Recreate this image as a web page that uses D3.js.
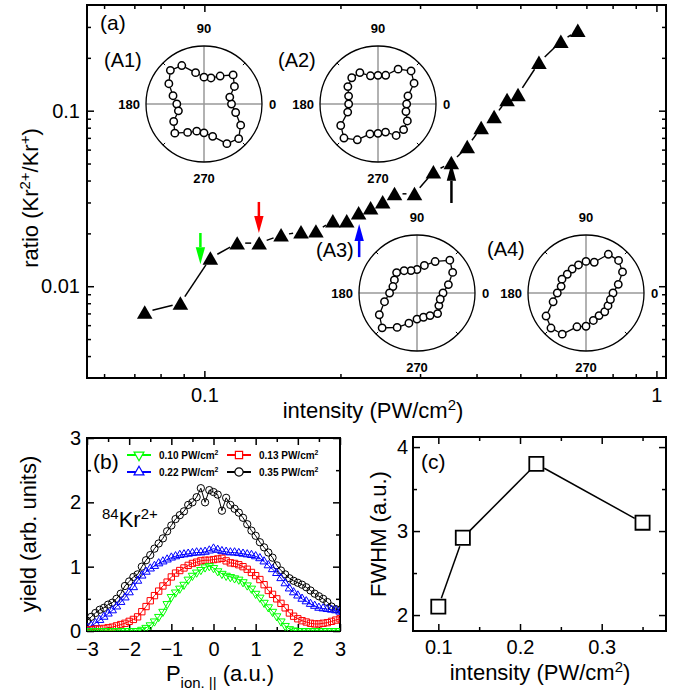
<!DOCTYPE html>
<html>
<head>
<meta charset="utf-8">
<script src="https://cdn.jsdelivr.net/npm/d3@7"></script>
<style>
body{margin:0;background:#fff}
svg{font-family:"Liberation Sans",Arial,sans-serif}
</style>
</head>
<body>
<svg id="fig" width="680" height="690"></svg>
<script>
// ---- panel (a): ratio vs intensity ----
const intensity = [0.0738,0.0885,0.1031,0.1182,0.1322,0.1478,0.1636,0.1765,0.1924,0.2065,0.2194,0.2332,0.2480,0.2634,0.2916,0.3211,0.3518,0.3815,0.4096,0.4375,0.4673,0.4941,0.5497,0.6146,0.670];
const ratio = [0.0071,0.0080,0.01445,0.0176,0.0176,0.01956,0.02035,0.0206,0.0235,0.0235,0.0261,0.0279,0.0302,0.0336,0.0336,0.0448,0.0505,0.0623,0.0800,0.0924,0.1156,0.1234,0.188,0.248,0.2865];

// arrows marking the intensities of panel (b)
const arrowI = [0.098,0.132,0.22,0.352];
const arrowTip = [0.01336,0.0201,0.0226,0.0498];
const arrowTail = [0.0201,0.0302,0.01465,0.0298];
const arrowColor = ["#00ff00","#ff0000","#0000ff","#000000"];

// polar insets: yield vs polarization angle
const polarAngle = [0,15,30,45,60,75,90,105,120,135,150,165,180,195,210,225,240,255,270,285,300,315,330,345];
const polarA1 = [0.474,0.46,0.606,0.71,0.557,0.465,0.463,0.56,0.766,0.82,0.70,0.553,0.469,0.457,0.603,0.711,0.565,0.485,0.497,0.577,0.789,0.845,0.73,0.565];
const polarA2 = [0.494,0.535,0.718,0.806,0.694,0.512,0.494,0.503,0.625,0.64,0.60,0.525,0.506,0.541,0.742,0.83,0.713,0.535,0.506,0.502,0.626,0.624,0.584,0.499];
const polarA3 = [0.449,0.56,0.71,0.80,0.626,0.492,0.405,0.40,0.444,0.497,0.45,0.43,0.473,0.58,0.75,0.85,0.685,0.539,0.45,0.433,0.45,0.502,0.435,0.415];
const polarA4 = [0.466,0.576,0.727,0.794,0.771,0.549,0.545,0.501,0.477,0.457,0.478,0.444,0.495,0.587,0.795,0.854,0.819,0.603,0.573,0.49,0.45,0.457,0.438,0.436];

// ---- panel (b): momentum distributions ----
const pIon = [-3.0,-2.9,-2.8,-2.7,-2.6,-2.5,-2.4,-2.3,-2.2,-2.1,-2.0,-1.9,-1.8,-1.7,-1.6,-1.5,-1.4,-1.3,-1.2,-1.1,-1.0,-0.9,-0.8,-0.7,-0.6,-0.5,-0.4,-0.3,-0.2,-0.1,0.0,0.1,0.2,0.3,0.4,0.5,0.6,0.7,0.8,0.9,1.0,1.1,1.2,1.3,1.4,1.5,1.6,1.7,1.8,1.9,2.0,2.1,2.2,2.3,2.4,2.5,2.6,2.7,2.8,2.9,3.0];
const yield010 = [0,0,0,0,0,0,0,0,0,0,0,0,0,
  0.02,0.05,0.09,0.15,0.22,0.30,0.42,0.53,0.60,0.66,0.72,0.80,0.86,0.91,0.95,0.99,1.01,
  0.98,0.93,0.89,0.86,0.84,0.82,0.80,0.76,0.71,0.66,0.58,0.52,0.44,0.37,0.30,0.23,0.15,0.08,0.03,0.01,
  0,0,0,0,0,0,0,0,0,0,0];
const yield013 = [0.02,0.02,0.03,0.03,0.04,0.05,0.06,0.08,0.10,0.12,
  0.15,0.18,0.22,0.30,0.38,0.47,0.55,0.62,0.70,0.76,
  0.84,0.90,0.94,0.98,1.02,1.05,1.07,1.09,1.10,1.10,
  1.11,1.12,1.13,1.09,1.06,1.05,1.03,1.00,0.96,0.91,
  0.86,0.80,0.72,0.63,0.57,0.50,0.43,0.36,0.28,0.23,
  0.19,0.16,0.14,0.12,0.11,0.11,0.12,0.13,0.15,0.17,0.19];
const yield022 = [0.05,0.08,0.12,0.17,0.22,0.27,0.32,0.38,0.45,0.52,
  0.60,0.68,0.78,0.86,0.92,0.97,1.01,1.05,1.08,1.11,
  1.14,1.16,1.18,1.19,1.20,1.21,1.22,1.22,1.23,1.25,
  1.28,1.26,1.24,1.23,1.22,1.22,1.21,1.20,1.19,1.18,
  1.16,1.13,1.08,1.02,0.96,0.90,0.82,0.74,0.66,0.60,
  0.55,0.50,0.46,0.42,0.39,0.36,0.35,0.34,0.33,0.32,0.30];
const yield035 = [0.16,0.22,0.28,0.33,0.36,0.41,0.44,0.50,0.58,0.70,
  0.77,0.84,0.88,1.00,1.10,1.18,1.28,1.36,1.44,1.55,
  1.64,1.74,1.80,1.86,1.96,2.00,2.08,2.22,2.00,2.19,
  2.16,2.12,1.87,2.07,1.96,1.90,1.84,1.76,1.66,1.56,
  1.48,1.38,1.30,1.22,1.14,1.02,0.94,0.88,0.82,0.78,
  0.75,0.72,0.68,0.63,0.58,0.54,0.50,0.45,0.38,0.34,0.33];
const seriesLabel = ["0.10","0.13","0.22","0.35"];

// ---- panel (c): FWHM vs intensity ----
const fwhmI = [0.10,0.13,0.22,0.35];
const fwhm = [2.1,2.92,3.8,3.1];

const svg = d3.select("#fig");
const FONT = "'Liberation Sans',Arial,sans-serif";

// frame with inward ticks on all four sides
function frameAxes(x, y, o) {
  const [xa, xb] = x.range(), [ya, yb] = y.range();
  const specs = [
    [d3.axisBottom, x, `translate(0,${ya})`, o.xMajor, o.xMinor, o.xFmt, o.xPad],
    [d3.axisTop, x, `translate(0,${yb})`, o.xMajor, o.xMinor, null, 0],
    [d3.axisLeft, y, `translate(${xa},0)`, o.yMajor, o.yMinor, o.yFmt, o.yPad],
    [d3.axisRight, y, `translate(${xb},0)`, o.yMajor, o.yMinor, null, 0]
  ];
  specs.forEach(([ax, sc, tr, maj, min, fmt, pad]) => {
    const g1 = svg.append("g").attr("transform", tr)
      .call(ax(sc).tickValues(maj).tickSize(-7).tickPadding(pad).tickFormat(fmt || (() => "")));
    const g2 = svg.append("g").attr("transform", tr)
      .call(ax(sc).tickValues(min).tickSize(-4).tickFormat(() => ""));
    [g1, g2].forEach(g => {
      g.select(".domain").remove();
      g.selectAll("line").attr("stroke-width", 1.5);
      g.attr("font-size", 20).attr("font-family", FONT);
      g.selectAll("text").attr("fill", "#000");
    });
  });
  svg.append("rect").attr("x", xa).attr("y", yb).attr("width", xb - xa).attr("height", ya - yb)
    .attr("fill", "none").attr("stroke", "#000").attr("stroke-width", 2);
}

// straight segments between neighbours, cut short around the markers
function gapLine(g, pts, gap, closed, color, width) {
  const n = pts.length;
  const m = closed ? n : n - 1;
  for (let i = 0; i < m; i++) {
    const p = pts[i], q = pts[(i + 1) % n];
    const dx = q[0] - p[0], dy = q[1] - p[1], d = Math.hypot(dx, dy);
    if (d <= 2 * gap + 1) continue;
    const ux = dx / d, uy = dy / d;
    g.append("line")
      .attr("x1", p[0] + ux * gap).attr("y1", p[1] + uy * gap)
      .attr("x2", q[0] - ux * gap).attr("y2", q[1] - uy * gap)
      .attr("stroke", color).attr("stroke-width", width);
  }
}

// rich text with super/subscripts: parts = [[text, "sup"|"sub"|null], ...]
function richText(sel, parts, size) {
  let shift = 0;
  parts.forEach(([t, k]) => {
    const target = k === "sup" ? -0.38 * size : k === "sub" ? 0.3 * size : 0;
    sel.append("tspan").attr("dy", target - shift)
      .attr("font-size", k ? size * 0.68 : size).text(t);
    shift = target;
  });
}

// ================= panel (a) =================
const xA = d3.scaleLog().domain([0.055, 1.05]).range([87, 666]);
const yA = d3.scaleLog().domain([0.003, 0.4]).range([378, 5]);
frameAxes(xA, yA, {
  xMajor: [0.1, 1], xMinor: [0.06,0.07,0.08,0.09,0.2,0.3,0.4,0.5,0.6,0.7,0.8,0.9], xFmt: d => d === 1 ? "1" : "0.1", xPad: 10,
  yMajor: [0.01, 0.1], yMinor: [0.004,0.005,0.006,0.007,0.008,0.009,0.02,0.03,0.04,0.05,0.06,0.07,0.08,0.09,0.2,0.3], yFmt: d => d === 0.1 ? "0.1" : "0.01", yPad: 7
});

// polar insets
function polarInset(cx, cy, radii, label, lx, ly) {
  const R = 58;
  const rs = d3.scaleLinear().domain([0, 1]).range([0, R]);
  const g = svg.append("g").attr("transform", `translate(${cx},${cy})`);
  g.append("line").attr("x1", -R).attr("x2", R).attr("stroke", "#999").attr("stroke-width", 1.5);
  g.append("line").attr("y1", -R).attr("y2", R).attr("stroke", "#999").attr("stroke-width", 1.5);
  g.append("circle").attr("r", R).attr("fill", "none").attr("stroke", "#000").attr("stroke-width", 1.3);
  [45, 135, 225, 315].forEach(a => {
    const c = Math.cos(a * Math.PI / 180), s = -Math.sin(a * Math.PI / 180);
    g.append("line").attr("x1", c * R).attr("y1", s * R).attr("x2", c * (R - 3)).attr("y2", s * (R - 3))
      .attr("stroke", "#000").attr("stroke-width", 1);
  });
  const lab = (t, x, y, anchor) => g.append("text").attr("x", x).attr("y", y).attr("text-anchor", anchor)
    .attr("font-size", 13).attr("font-weight", "bold").text(t);
  lab("90", 0, -71, "middle");
  lab("270", 0, 79, "middle");
  lab("180", -64, 5, "end");
  lab("0", 65, 5, "start");
  const pts = polarAngle.map((a, i) => [rs(radii[i]) * Math.cos(a * Math.PI / 180), -rs(radii[i]) * Math.sin(a * Math.PI / 180)]);
  gapLine(g, pts, 4, true, "#000", 1.3);
  g.selectAll("circle.pt").data(pts).join("circle").attr("class", "pt")
    .attr("cx", d => d[0]).attr("cy", d => d[1]).attr("r", 3.7)
    .attr("fill", "#fff").attr("stroke", "#000").attr("stroke-width", 1.5);
  svg.append("text").attr("x", lx).attr("y", ly).attr("font-size", 20).text(label);
}
polarInset(204, 104, polarA1, "(A1)", 104, 67);
polarInset(378, 104, polarA2, "(A2)", 278, 67);
polarInset(417, 293, polarA3, "(A3)", 316, 257);
polarInset(586, 293, polarA4, "(A4)", 487, 256);

// ratio curve
const gA = svg.append("g");
const ptsA = intensity.map((v, i) => [xA(v), yA(ratio[i])]);
gapLine(gA, ptsA, 8, false, "#000", 1.5);
gA.selectAll("path.tri").data(ptsA).join("path").attr("class", "tri")
  .attr("d", d3.symbol().type(d3.symbolTriangle).size(105))
  .attr("transform", d => `translate(${d[0]},${d[1] + 2})`)
  .attr("fill", "#000");

// arrows
arrowI.forEach((v, i) => {
  const x = xA(v), yt = yA(arrowTip[i]), ys = yA(arrowTail[i]);
  const dir = Math.sign(yt - ys), hl = 17, hw = 4.7;
  svg.append("line").attr("x1", x).attr("x2", x).attr("y1", ys).attr("y2", yt - dir * hl)
    .attr("stroke", arrowColor[i]).attr("stroke-width", 2.5);
  svg.append("path").attr("d", `M${x - hw},${yt - dir * hl}L${x + hw},${yt - dir * hl}L${x},${yt}Z`)
    .attr("fill", arrowColor[i]);
});

svg.append("text").attr("x", 100).attr("y", 30).attr("font-size", 21).text("(a)");
richText(svg.append("text").attr("x", 373).attr("y", 418).attr("text-anchor", "middle"),
  [["intensity (PW/cm", null], ["2", "sup"], [")", null]], 22);
richText(svg.append("text").attr("transform", "translate(38,198) rotate(-90)").attr("text-anchor", "middle"),
  [["ratio (Kr", null], ["2+", "sup"], ["/Kr", null], ["+", "sup"], [")", null]], 22);

// ================= panel (b) =================
const xB = d3.scaleLinear().domain([-3, 3]).range([87, 340]);
const yB = d3.scaleLinear().domain([0, 3]).range([631, 438]);
frameAxes(xB, yB, {
  xMajor: [-3,-2,-1,0,1,2,3], xMinor: [-2.5,-1.5,-0.5,0.5,1.5,2.5], xFmt: d3.format("d"), xPad: 11,
  yMajor: [0,1,2,3], yMinor: [0.5,1.5,2.5], yFmt: d3.format("d"), yPad: 6
});

const seriesB = [
  {y: yield035, color: "#000000", sym: d3.symbolCircle, size: 42, rot: 0},
  {y: yield022, color: "#0000ff", sym: d3.symbolTriangle, size: 30, rot: 0},
  {y: yield013, color: "#ff0000", sym: d3.symbolSquare, size: 40, rot: 0},
  {y: yield010, color: "#00ff00", sym: d3.symbolTriangle, size: 30, rot: 180}
];
svg.append("clipPath").attr("id", "clipB").append("rect")
  .attr("x", 87).attr("y", 438).attr("width", 253).attr("height", 193);
const gB = svg.append("g").attr("clip-path", "url(#clipB)");
seriesB.forEach(s => {
  gB.append("path").datum(pIon.map((p, i) => [p, s.y[i]]))
    .attr("d", d3.line().x(d => xB(d[0])).y(d => yB(d[1])))
    .attr("fill", "none").attr("stroke", s.color).attr("stroke-width", 1);
  gB.append("g").selectAll("path").data(pIon.map((p, i) => [p, s.y[i]])).join("path")
    .attr("d", d3.symbol().type(s.sym).size(s.size))
    .attr("transform", d => `translate(${xB(d[0])},${yB(d[1])}) rotate(${s.rot})`)
    .attr("fill", "none").attr("stroke", s.color).attr("stroke-width", 1);
});

// legend
const legendOrder = [3, 2, 1, 0]; // index into seriesB for 0.10, 0.13, 0.22, 0.35
const legPos = [[127, 455], [227, 455], [127, 472], [227, 472]];
legendOrder.forEach((si, k) => {
  const s = seriesB[si], [lx, ly] = legPos[k];
  svg.append("line").attr("x1", lx).attr("x2", lx + 24).attr("y1", ly).attr("y2", ly)
    .attr("stroke", s.color).attr("stroke-width", 2);
  svg.append("path").attr("d", d3.symbol().type(s.sym).size(s.size + 12)())
    .attr("transform", `translate(${lx + 12},${ly}) rotate(${s.rot})`)
    .attr("fill", "#fff").attr("stroke", s.color).attr("stroke-width", 1.2);
  richText(svg.append("text").attr("x", lx + 32).attr("y", ly + 4).attr("font-weight", "bold"),
    [[seriesLabel[k] + " PW/cm", null], ["2", "sup"]], 10);
});

svg.append("text").attr("x", 93).attr("y", 469).attr("font-size", 21).text("(b)");
richText(svg.append("text").attr("x", 102).attr("y", 527),
  [["84", "sup"], ["Kr", null], ["2+", "sup"]], 22);
richText(svg.append("text").attr("transform", "translate(36,534) rotate(-90)").attr("text-anchor", "middle"),
  [["yield (arb. units)", null]], 22);
richText(svg.append("text").attr("x", 220).attr("y", 681).attr("text-anchor", "middle"),
  [["P", null], ["ion. ||", "sub"], [" (a.u.)", null]], 22);

// ================= panel (c) =================
const xC = d3.scaleLinear().domain([0.069, 0.3787]).range([413, 666]);
const yC = d3.scaleLinear().domain([1.81, 4.12]).range([631, 437]);
frameAxes(xC, yC, {
  xMajor: [0.1, 0.2, 0.3], xMinor: [0.15, 0.25, 0.35], xFmt: d3.format(".1f"), xPad: 9,
  yMajor: [2, 3, 4], yMinor: [2.5, 3.5], yFmt: d3.format("d"), yPad: 5
});
const gC = svg.append("g");
const ptsC = fwhmI.map((v, i) => [xC(v), yC(fwhm[i])]);
gapLine(gC, ptsC, 9, false, "#000", 1.5);
gC.selectAll("path").data(ptsC).join("path")
  .attr("d", d3.symbol().type(d3.symbolSquare).size(200))
  .attr("transform", d => `translate(${d[0]},${d[1]})`)
  .attr("fill", "none").attr("stroke", "#000").attr("stroke-width", 1.8);

svg.append("text").attr("x", 421).attr("y", 469).attr("font-size", 21).text("(c)");
richText(svg.append("text").attr("transform", "translate(386,534) rotate(-90)").attr("text-anchor", "middle"),
  [["FWHM (a.u.)", null]], 22);
richText(svg.append("text").attr("x", 540).attr("y", 680).attr("text-anchor", "middle"),
  [["intensity (PW/cm", null], ["2", "sup"], [")", null]], 22);
</script>
</body>
</html>
